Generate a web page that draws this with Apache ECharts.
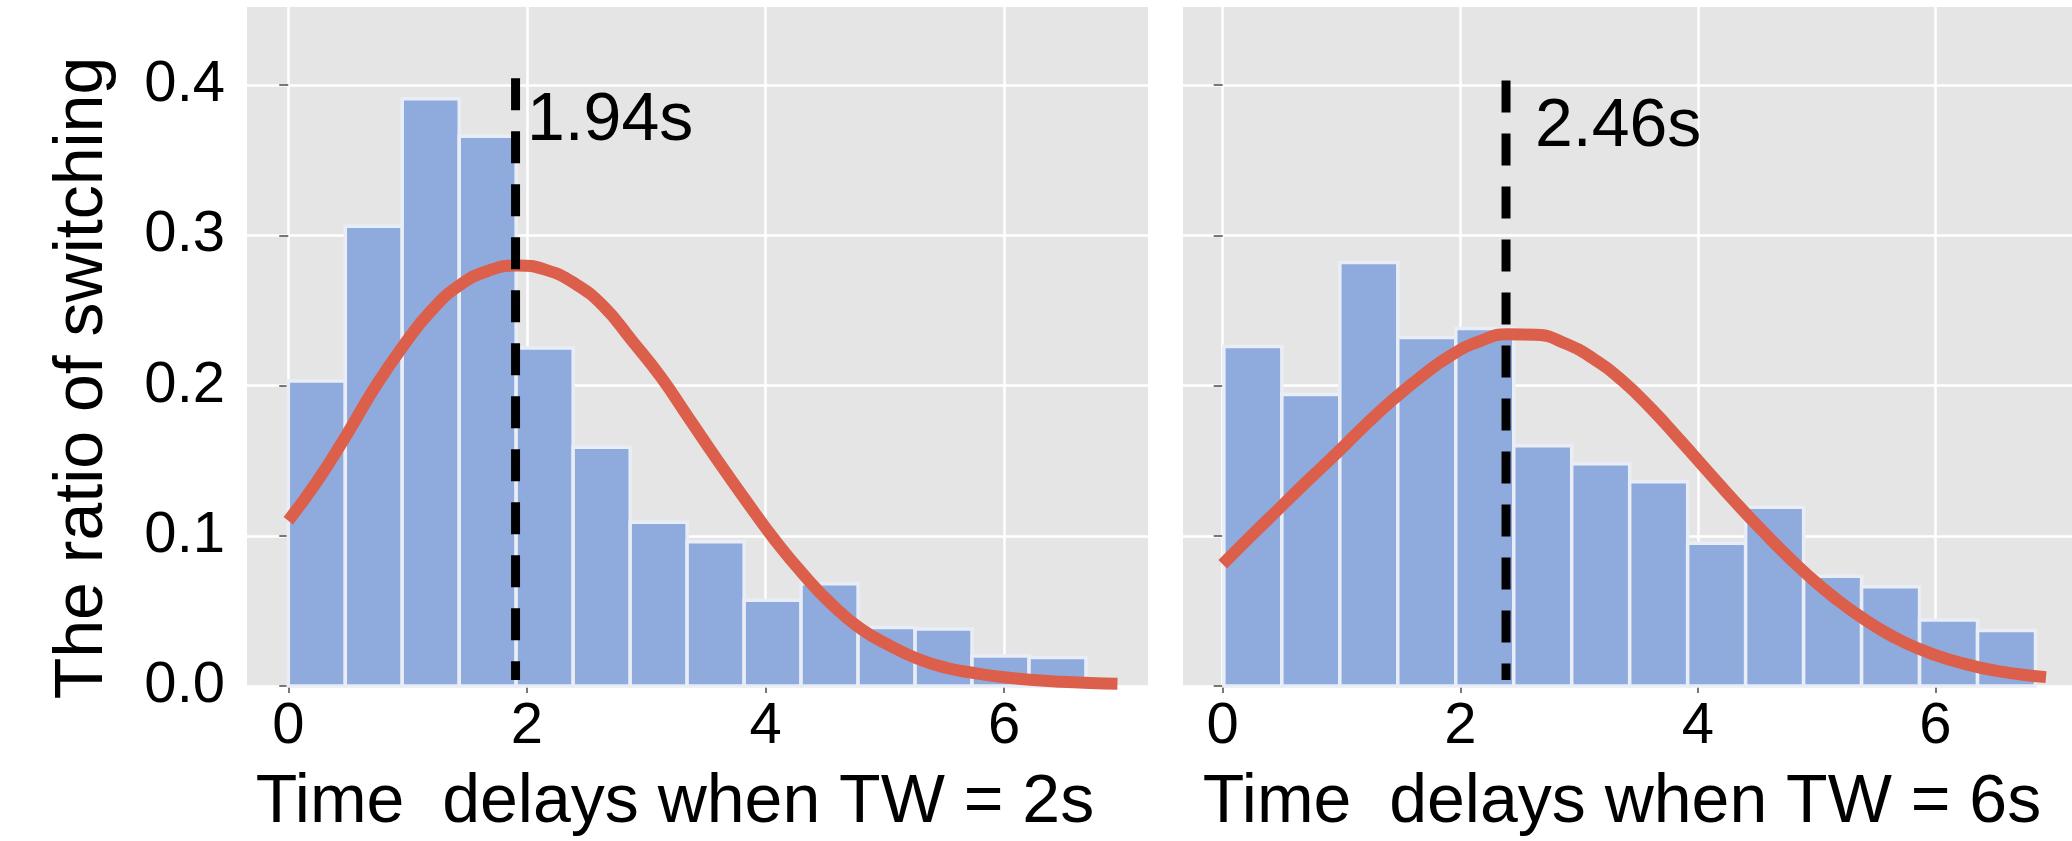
<!DOCTYPE html>
<html>
<head>
<meta charset="utf-8">
<script src="https://cdn.jsdelivr.net/npm/echarts@6/dist/echarts.min.js"></script>
<style>
html,body{margin:0;padding:0;background:#ffffff;}
#chart{width:2072px;height:841px;}
</style>
</head>
<body>
<div id="chart"></div>
<script>
// ---------- data ----------
const xTickValues = [0, 2, 4, 6];
const yTickValues = [0, 0.1, 0.2, 0.3, 0.4];

const yTitle = 'The ratio of switching';
const xTitles = ['Time  delays when TW = 2s', 'Time  delays when TW = 6s'];

// left panel (TW = 2s)
const leftBinEdges = [0, 0.478, 0.955, 1.433, 1.910, 2.388, 2.866, 3.343, 3.821, 4.298, 4.776, 5.254, 5.731, 6.209, 6.686];
const leftRatios   = [0.203, 0.306, 0.391, 0.366, 0.225, 0.159, 0.109, 0.096, 0.057, 0.068, 0.039, 0.038, 0.020, 0.019];
const leftCurveX = [0, 0.24, 0.48, 0.72, 0.96, 1.20, 1.44, 1.68, 1.92, 2.16, 2.40, 2.64, 2.88, 3.12, 3.36, 3.60, 3.84, 4.08, 4.32, 4.56, 4.80, 5.04, 5.28, 5.52, 5.76, 6.00, 6.24, 6.48, 6.72, 6.95];
const leftCurveY = [0.110, 0.136, 0.166, 0.198, 0.226, 0.250, 0.267, 0.2765, 0.280, 0.277, 0.268, 0.253, 0.230, 0.206, 0.178, 0.150, 0.123, 0.097, 0.074, 0.054, 0.038, 0.027, 0.018, 0.012, 0.0085, 0.0058, 0.0040, 0.0028, 0.0020, 0.0015];
const leftMeanX = 1.905;
const leftMeanTop = 0.4045;
const leftMeanLabel = '1.94s';
const leftLabelPos = [2.0, 0.376];

// right panel (TW = 6s)
const rightBinEdges = [0.01, 0.498, 0.986, 1.474, 1.962, 2.450, 2.938, 3.426, 3.914, 4.402, 4.890, 5.378, 5.866, 6.354, 6.842];
const rightRatios   = [0.226, 0.194, 0.282, 0.232, 0.238, 0.160, 0.148, 0.136, 0.095, 0.119, 0.073, 0.066, 0.044, 0.037];
const rightCurveX = [0, 0.24, 0.48, 0.72, 0.96, 1.20, 1.44, 1.68, 1.92, 2.16, 2.40, 2.64, 2.88, 3.12, 3.36, 3.60, 3.84, 4.08, 4.32, 4.56, 4.80, 5.04, 5.28, 5.52, 5.76, 6.00, 6.24, 6.48, 6.72, 6.93];
const rightCurveY = [0.081, 0.100, 0.1185, 0.137, 0.155, 0.1737, 0.191, 0.2066, 0.220, 0.2294, 0.2342, 0.2338, 0.2282, 0.2179, 0.2035, 0.1852, 0.1645, 0.1432, 0.122, 0.1019, 0.083, 0.0658, 0.051, 0.0384, 0.0282, 0.0206, 0.0149, 0.0105, 0.0077, 0.0059];
const rightMeanX = 2.385;
const rightMeanTop = 0.403;
const rightMeanLabel = '2.46s';
const rightLabelPos = [2.629, 0.372];

// ---------- styling ----------
const FONT = '"Liberation Sans", Arial, Helvetica, sans-serif';
const PANEL_BG = '#E5E5E5';
const BAR_FILL = '#8FAADC';
const BAR_EDGE = '#E9EDF5';
const CURVE = '#DB5F4B';

const chart = echarts.init(document.getElementById('chart'), null, {renderer: 'canvas'});

function binData(edges, vals) {
  return vals.map((v, i) => [edges[i], edges[i + 1], v]);
}
function curveData(xs, ys) {
  return xs.map((x, i) => [x, ys[i]]);
}
function renderBar(params, api) {
  const p0 = api.coord([api.value(0), api.value(2)]);
  const p1 = api.coord([api.value(1), 0]);
  return {
    type: 'rect',
    shape: {x: p0[0], y: p0[1], width: p1[0] - p0[0], height: p1[1] - p0[1]},
    style: {fill: BAR_FILL, stroke: BAR_EDGE, lineWidth: 3.5}
  };
}

function xAxisCfg(gridIndex, min, max) {
  return {
    type: 'value', gridIndex, min, max, splitNumber: 4,
    axisLine: {show: false},
    axisTick: {show: true, customValues: xTickValues, length: 7, lineStyle: {color: '#777', width: 2}},
    axisLabel: {show: true, customValues: xTickValues, fontSize: 58, fontFamily: FONT, color: '#000', margin: 12,
      formatter: v => String(v)},
    splitLine: {show: true, lineStyle: {color: '#FFFFFF', width: 2.5}}
  };
}
function yAxisCfg(gridIndex, showLabels) {
  return {
    type: 'value', gridIndex, min: 0, max: 0.452, splitNumber: 5,
    axisLine: {show: false},
    axisTick: {show: true, customValues: yTickValues, length: 9, lineStyle: {color: '#777', width: 2}},
    axisLabel: {show: showLabels, customValues: yTickValues, fontSize: 58, fontFamily: FONT, color: '#000', margin: 22,
      formatter: v => v.toFixed(1)},
    splitLine: {show: true, lineStyle: {color: '#FFFFFF', width: 2.5}}
  };
}

function panelSeries(idx, edges, ratios, cx, cy, meanX, meanTop) {
  return [
    {
      type: 'custom', xAxisIndex: idx, yAxisIndex: idx,
      data: binData(edges, ratios),
      encode: {x: [0, 1], y: 2},
      renderItem: renderBar, z: 2, silent: true
    },
    {
      type: 'line', xAxisIndex: idx, yAxisIndex: idx,
      data: curveData(cx, cy), smooth: 0.5, showSymbol: false, symbol: 'none',
      lineStyle: {color: CURVE, width: 12, cap: 'butt', join: 'round'}, z: 3, silent: true
    },
    {
      type: 'line', xAxisIndex: idx, yAxisIndex: idx,
      data: [[meanX, meanTop], [meanX, 0.004]], showSymbol: false, symbol: 'none',
      lineStyle: {color: '#000', width: 9, type: [32, 21], cap: 'butt'}, z: 4, silent: true
    }
  ];
}

const option = {
  backgroundColor: '#FFFFFF',
  animation: false,
  grid: [
    {left: 247, top: 7, width: 901, height: 679, show: true, backgroundColor: PANEL_BG, borderWidth: 0},
    {left: 1183, top: 7, width: 889, height: 679, show: true, backgroundColor: PANEL_BG, borderWidth: 0}
  ],
  xAxis: [xAxisCfg(0, -0.346, 7.206), xAxisCfg(1, -0.334, 7.149)],
  yAxis: [yAxisCfg(0, true), yAxisCfg(1, false)],
  series: [
    ...panelSeries(0, leftBinEdges, leftRatios, leftCurveX, leftCurveY, leftMeanX, leftMeanTop),
    ...panelSeries(1, rightBinEdges, rightRatios, rightCurveX, rightCurveY, rightMeanX, rightMeanTop)
  ]
};
chart.setOption(option);

// annotation and title texts (value labels positioned through the chart scales)
const lp = chart.convertToPixel({gridIndex: 0}, leftLabelPos);
const rp = chart.convertToPixel({gridIndex: 1}, rightLabelPos);
function txt(x, y, text, size, align, rotation) {
  return {
    type: 'text', x, y, rotation: rotation || 0, z: 100, silent: true,
    style: {text, fontSize: size, fontFamily: FONT, fill: '#000', align, verticalAlign: 'middle'}
  };
}
chart.setOption({
  graphic: [
    txt(lp[0], lp[1], leftMeanLabel, 68, 'left'),
    txt(rp[0], rp[1], rightMeanLabel, 68, 'left'),
    txt(83, 378, yTitle, 68, 'center', Math.PI / 2),
    txt(675, 803, xTitles[0], 68, 'center'),
    txt(1622, 803, xTitles[1], 68, 'center')
  ]
});
</script>
</body>
</html>
